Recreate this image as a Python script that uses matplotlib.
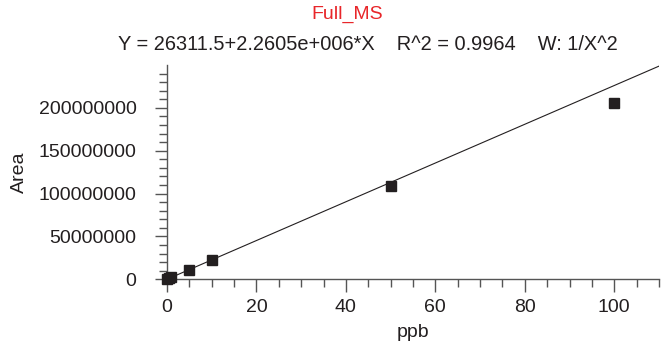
import numpy as np
import matplotlib
matplotlib.use("Agg")
import matplotlib.pyplot as plt
from matplotlib.ticker import MultipleLocator, FixedLocator

plt.rcParams['font.family'] = ['Liberation Sans', 'DejaVu Sans']

# Calibration standards (ppb) and measured peak areas
conc_ppb = [0.1, 0.5, 1, 5, 10, 50, 100]
area = [0.25e6, 1.1e6, 2.2e6, 11.0e6, 22.5e6, 109e6, 206e6]

# Weighted linear fit reported by the software
intercept = 26311.5
slope = 2.2605e6
title = "Full_MS"
equation = "Y = 26311.5+2.2605e+006*X    R^2 = 0.9964    W: 1/X^2"

x_ticks = [0, 20, 40, 60, 80, 100]
y_ticks = [0, 50000000, 100000000, 150000000, 200000000]

ink = "#231f20"
fs = 14

fig = plt.figure(figsize=(6.69, 3.44), dpi=100)
ax = fig.add_axes([167/669, 1 - 279.3/344, (659 - 167)/669, (279.3 - 65)/344])

xfit = np.array([0, 110])
ax.plot(xfit, intercept + slope * xfit, color=ink, lw=0.8, zorder=2)
ax.plot(conc_ppb, area, linestyle='none', marker='s', markersize=7.8,
        color=ink, clip_on=False, zorder=3)

ax.set_xlim(0, 110)
ax.set_ylim(0, 250e6)
ax.xaxis.set_major_locator(FixedLocator(x_ticks))
ax.xaxis.set_minor_locator(MultipleLocator(5))
ax.yaxis.set_major_locator(FixedLocator(y_ticks))
ax.yaxis.set_minor_locator(FixedLocator(np.arange(0, 241e6, 10e6)))
ax.set_xticklabels([str(v) for v in x_ticks])
ax.set_yticklabels([str(v) for v in y_ticks])

for side in ('top', 'right'):
    ax.spines[side].set_visible(False)
for side in ('left', 'bottom'):
    ax.spines[side].set_color('#555555')
    ax.spines[side].set_linewidth(1.0)

ax.tick_params(which='major', length=9, width=1.0, color='#555555',
               labelsize=fs, labelcolor=ink)
ax.tick_params(which='minor', length=6, width=1.0, color='#555555')
ax.tick_params(axis='y', which='major', pad=13)
ax.tick_params(axis='x', which='major', pad=5)

ax.set_xlabel("ppb", fontsize=fs, color=ink, labelpad=6)
ax.set_ylabel("Area", fontsize=fs, color=ink, labelpad=8)

fig.text(347/669, 1 - 14/344, title, color='#e8262a', fontsize=fs,
         ha='center', va='center')
fig.text(368/669, 1 - 44/344, equation, color=ink, fontsize=14.4,
         ha='center', va='center')

fig.savefig("out.png", dpi=100)
